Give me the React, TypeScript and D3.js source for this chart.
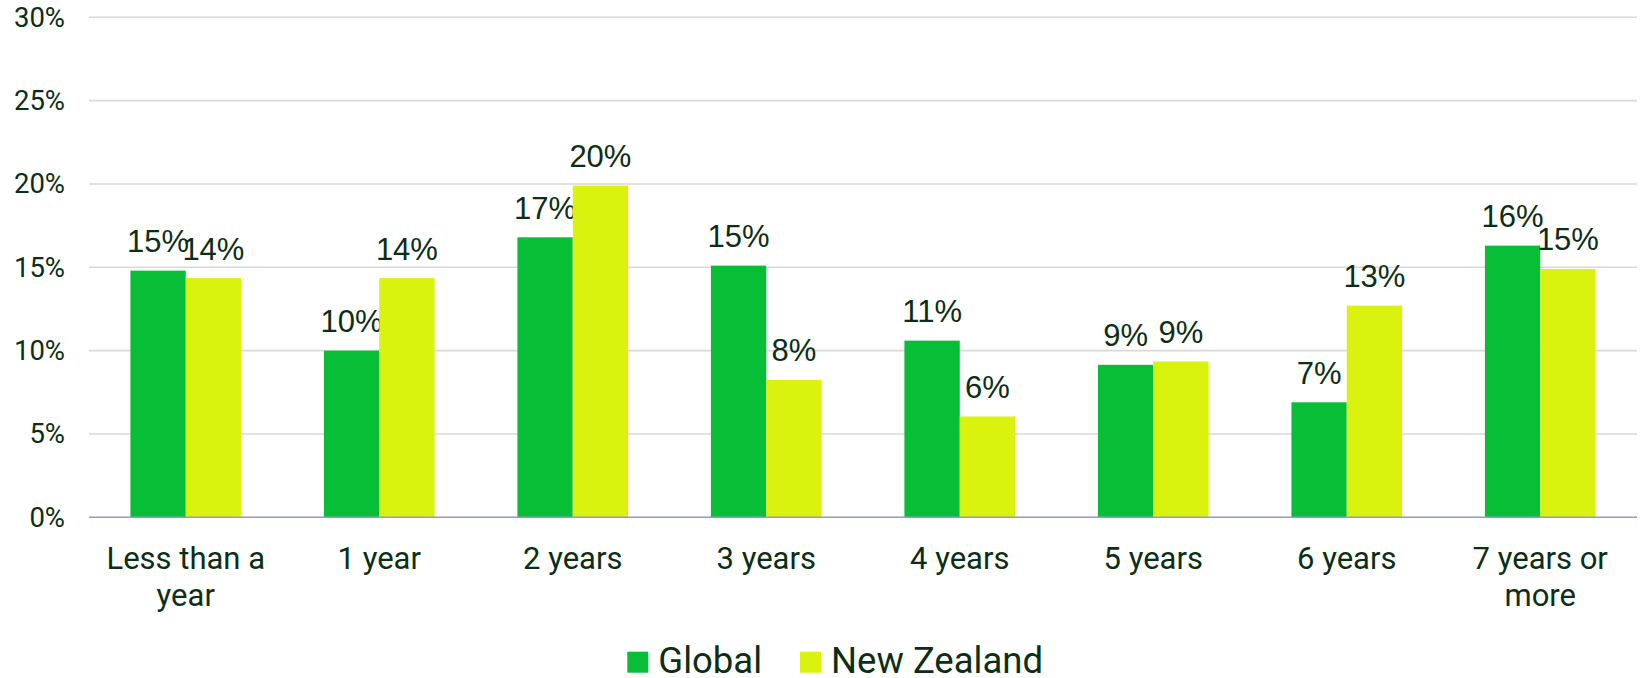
import React from "react";
import * as d3 from "d3";

const categories: string[][] = [
  ["Less than a", "year"],
  ["1 year"],
  ["2 years"],
  ["3 years"],
  ["4 years"],
  ["5 years"],
  ["6 years"],
  ["7 years or", "more"],
];
const seriesNames = ["Global", "New Zealand"];
const globalValues = [14.8, 10.0, 16.8, 15.1, 10.6, 9.15, 6.9, 16.3];
const nzValues = [14.35, 14.35, 19.9, 8.25, 6.05, 9.35, 12.7, 14.9];
const yTicks = [0, 5, 10, 15, 20, 25, 30];
const colors = ["#07be36", "#d9f20e"];

const W = 1640;
const H = 678;
const left = 89;
const right = 1637;
const top = 17.3;
const bottom = 517.3;
const textColor = "#0b2e14";

export default function App() {
  const x = d3
    .scaleBand<number>()
    .domain(d3.range(categories.length))
    .range([left, right])
    .paddingInner(0.428)
    .paddingOuter(0.214);
  const xs = d3.scaleBand<number>().domain([0, 1]).range([0, x.bandwidth()]);
  const y = d3.scaleLinear().domain([0, 30]).range([bottom, top]);
  const series = [globalValues, nzValues];

  return (
    <svg
      width={W}
      height={H}
      style={{ position: "absolute", left: 0, top: 0, background: "#fff" }}
    >
      {yTicks.map((t) => (
        <g key={t}>
          {t !== 0 && (
            <line x1={left} x2={right} y1={y(t)} y2={y(t)} stroke="#d9d9d9" strokeWidth={1.6} />
          )}
          <text
            x={65}
            y={y(t) + 9.5}
            textAnchor="end"
            fontFamily="Roboto"
            fontSize={27.5}
            fill={textColor}
          >
            {t}%
          </text>
        </g>
      ))}
      {series.map((vals, si) =>
        vals.map((v, i) => {
          const bx = (x(i) as number) + (xs(si) as number);
          return (
            <g key={`${si}-${i}`}>
              <rect x={bx} y={y(v)} width={xs.bandwidth()} height={bottom - y(v)} fill={colors[si]} />
              <text
                x={bx + xs.bandwidth() / 2}
                y={y(v) - 18.5}
                textAnchor="middle"
                fontFamily="Liberation Sans, Arial"
                fontSize={31}
                fill={textColor}
              >
                {Math.round(v)}%
              </text>
            </g>
          );
        })
      )}
      <line x1={left} x2={right} y1={bottom} y2={bottom} stroke="#8e9cc8" strokeWidth={1.6} />
      {categories.map((lines, i) => (
        <text
          key={i}
          x={(x(i) as number) + x.bandwidth() / 2}
          textAnchor="middle"
          fontFamily="Roboto"
          fontSize={31}
          fill={textColor}
        >
          {lines.map((l, li) => (
            <tspan key={li} x={(x(i) as number) + x.bandwidth() / 2} y={568.5 + li * 37.5}>
              {l}
            </tspan>
          ))}
        </text>
      ))}
      {seriesNames.map((name, si) => {
        const lx = [627.3, 800][si];
        return (
          <g key={name}>
            <rect x={lx} y={651.7} width={21} height={21} fill={colors[si]} />
            <text x={lx + 31} y={672.5} fontFamily="Roboto" fontSize={36.5} fill={textColor}>
              {name}
            </text>
          </g>
        );
      })}
    </svg>
  );
}
